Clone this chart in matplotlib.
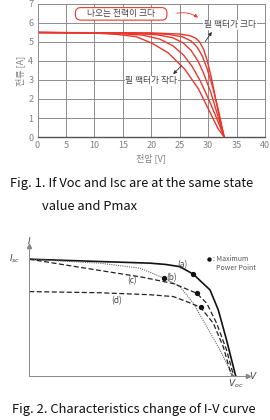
import numpy as np
import matplotlib
matplotlib.use('Agg')
import matplotlib.pyplot as plt

plt.rcParams['font.family'] = ['Noto Sans CJK KR', 'DejaVu Sans']

# ---- Fig. 1 data: five I-V curves, fill factor large -> small
v_ff_1 = [0, 20, 25, 26.8, 27.8, 28.5, 29.2, 29.8, 30.6, 31.4, 32.3, 32.8]
i_ff_1 = [5.5, 5.48, 5.42, 5.33, 5.2, 5.0, 4.6, 4.05, 3.05, 1.85, 0.6, 0.0]
v_ff_2 = [0, 18, 23, 25.5, 27.0, 28.0, 28.9, 29.8, 30.8, 31.8, 32.8]
i_ff_2 = [5.5, 5.47, 5.4, 5.27, 5.05, 4.75, 4.3, 3.6, 2.6, 1.4, 0.0]
v_ff_3 = [0, 16, 21, 23.8, 25.6, 27.0, 28.2, 29.2, 30.5, 31.6, 32.8]
i_ff_3 = [5.5, 5.47, 5.38, 5.22, 4.95, 4.55, 4.0, 3.35, 2.3, 1.2, 0.0]
v_ff_4 = [0, 13, 18.5, 21.5, 23.8, 25.7, 27.2, 28.6, 30.2, 31.6, 32.8]
i_ff_4 = [5.5, 5.47, 5.36, 5.15, 4.8, 4.3, 3.7, 2.95, 1.9, 0.9, 0.0]
v_ff_5 = [0, 10, 14, 17.3, 20.1, 23.0, 25.9, 28.3, 30.0, 31.7, 32.8]
i_ff_5 = [5.5, 5.47, 5.4, 5.28, 4.94, 4.42, 3.56, 2.52, 1.49, 0.45, 0.0]
fig1_curves = [(v_ff_1, i_ff_1), (v_ff_2, i_ff_2), (v_ff_3, i_ff_3),
               (v_ff_4, i_ff_4), (v_ff_5, i_ff_5)]

# ---- Fig. 2 data (normalised V/Voc, I/Isc)
a_v = [0, 0.34, 0.585, 0.66, 0.73, 0.795, 0.876, 0.916, 0.956, 0.997, 1.0]
a_i = [1.0, 0.98, 0.966, 0.955, 0.936, 0.871, 0.736, 0.564, 0.307, 0.02, 0.0]
b_v = [0, 0.34, 0.536, 0.654, 0.73, 0.795, 0.86, 0.924, 0.972, 0.98]
b_i = [1.0, 0.966, 0.923, 0.837, 0.765, 0.622, 0.421, 0.221, 0.049, 0.0]
c_v = [0, 0.3, 0.55, 0.7, 0.811, 0.86, 0.908, 0.956, 0.99]
c_i = [1.0, 0.915, 0.845, 0.79, 0.708, 0.622, 0.45, 0.221, 0.0]
d_v = [0, 0.342, 0.585, 0.698, 0.763, 0.83, 0.892, 0.94, 0.972, 0.985]
d_i = [0.722, 0.712, 0.695, 0.679, 0.636, 0.587, 0.45, 0.249, 0.049, 0.0]
mpp_v = [0.795, 0.654, 0.811, 0.83]
mpp_i = [0.871, 0.837, 0.708, 0.587]

red = '#e8382d'

fig = plt.figure(figsize=(2.7, 4.2), dpi=100)

# ================= Fig. 1 =================
ax1 = fig.add_axes([0.139, 0.6738, 0.843, 0.3167])
for v, i in fig1_curves:
    ax1.plot(v, i, color=red, lw=1.0, solid_joinstyle='round')
ax1.set_xlim(0, 40)
ax1.set_ylim(0, 7)
ax1.set_xticks(range(0, 41, 5))
ax1.set_yticks(range(0, 8))
ax1.grid(color='#8c8c8c', lw=0.7)
ax1.tick_params(length=0, labelsize=6.5, colors='#808080', pad=3)
for s in ax1.spines.values():
    s.set_color('#8c8c8c')
    s.set_linewidth(0.7)
ax1.spines['bottom'].set_color('#555555')
ax1.spines['bottom'].set_linewidth(1.0)
ax1.set_xlabel('전압 [V]', fontsize=6.5, color='#808080', labelpad=2)
ax1.set_ylabel('전류 [A]', fontsize=6.5, color='#808080', labelpad=2)

ax1.text(14.7, 6.48, '     나오는 전력이 크다     ', fontsize=6.3, color='#444444',
         ha='center', va='center',
         bbox=dict(boxstyle='round,pad=0.2,rounding_size=0.6', fc='white', ec=red, lw=0.8))
ax1.annotate('', xy=(28.6, 6.2), xytext=(24.0, 6.48),
             arrowprops=dict(arrowstyle='-|>', color=red, lw=0.6, mutation_scale=5,
                             connectionstyle='arc3,rad=-0.25'))
ax1.text(33.8, 5.9, '필 팩터가 크다', fontsize=6.3, color='#444444', ha='center', va='center',
         bbox=dict(fc='white', ec='none', pad=0.5))
ax1.annotate('', xy=(30.9, 5.65), xytext=(29.2, 4.9),
             arrowprops=dict(arrowstyle='-|>', color='#333333', lw=0.6, mutation_scale=5))
ax1.text(20.0, 2.95, '필 팩터가 작다', fontsize=6.3, color='#444444', ha='center', va='center',
         bbox=dict(fc='white', ec='none', pad=0.5))
ax1.annotate('', xy=(23.5, 3.2), xytext=(25.6, 3.85),
             arrowprops=dict(arrowstyle='-|>', color='#333333', lw=0.6, mutation_scale=5))

fig.text(10 / 270, 1 - 183 / 420, 'Fig. 1. If Voc and Isc are at the same state',
         fontsize=9.3, ha='left', va='center', color='#111111')
fig.text(42 / 270, 1 - 207 / 420, 'value and Pmax',
         fontsize=9.3, ha='left', va='center', color='#111111')

# ================= Fig. 2 =================
ax2 = fig.add_axes([0.1085, 0.1055, 0.81, 0.309])
ax2.set_xlim(0, 1.06)
ax2.set_ylim(0, 1.114)
ax2.plot(a_v, a_i, color='#111111', lw=1.2)
ax2.plot(b_v, b_i, color='#666666', lw=0.8, ls=(0, (1, 1)))
ax2.plot(c_v, c_i, color='#222222', lw=0.9, ls=(0, (4, 2)))
ax2.plot(d_v, d_i, color='#222222', lw=0.9, ls=(0, (4, 2)))
ax2.plot(mpp_v, mpp_i, 'o', color='#111111', ms=2.8, ls='none')
for s in ['top', 'right']:
    ax2.spines[s].set_visible(False)
for s in ['left', 'bottom']:
    ax2.spines[s].set_color('#888888')
    ax2.spines[s].set_linewidth(0.7)
ax2.set_xticks([])
ax2.set_yticks([])
ax2.plot(1, 0, '>', color='#888888', ms=3, transform=ax2.get_yaxis_transform(), clip_on=False)
ax2.plot(0, 1, '^', color='#888888', ms=3, transform=ax2.get_xaxis_transform(), clip_on=False)

ax2.text(0.743, 0.957, '(a)', fontsize=6, color='#444444', ha='center', va='center')
ax2.text(0.69, 0.845, '(b)', fontsize=6, color='#444444', ha='center', va='center')
ax2.text(0.496, 0.817, '(c)', fontsize=6, color='#444444', ha='center', va='center')
ax2.text(0.423, 0.642, '(d)', fontsize=6, color='#444444', ha='center', va='center')
ax2.text(0.0, 1.16, '$I$', fontsize=6.5, color='#444444', ha='center', va='center')
ax2.text(1.085, 0.0, '$V$', fontsize=6.5, color='#444444', ha='center', va='center')
ax2.text(-0.07, 1.0, '$I_{sc}$', fontsize=6.5, color='#444444', ha='center', va='center')
ax2.text(1.0, -0.07, '$V_{oc}$', fontsize=6.5, color='#444444', ha='center', va='center')
ax2.plot(0.872, 1.005, 'o', color='#111111', ms=2.2)
ax2.text(0.89, 1.04, ': Maximum\n  Power Point', fontsize=5, color='#555555',
         ha='left', va='top', linespacing=1.2)

fig.text(12 / 270, 1 - 409 / 420, 'Fig. 2. Characteristics change of I-V curve',
         fontsize=9.3, ha='left', va='center', color='#111111')

fig.savefig('out.png', dpi=100)
